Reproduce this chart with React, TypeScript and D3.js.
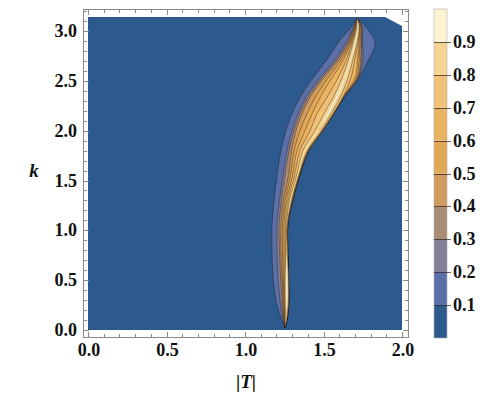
import React from 'react';
import * as d3 from 'd3';

// ---- data ----
const xTicks = [0, 0.5, 1.0, 1.5, 2.0];
const yTicks = [0, 0.5, 1.0, 1.5, 2.0, 2.5, 3.0];
const levels = [0.1, 0.2, 0.3, 0.4, 0.5, 0.6, 0.7, 0.8, 0.9];
const bandColors = ['#2d5a8e', '#5b6fa9', '#848098', '#ab8c75', '#d09b5e', '#e2a856', '#eab362', '#f0c176', '#f6d594', '#fef3d2'];

// region where the function is defined (|T|, k)
const domainT = [0, 0, 1.892, 2.0, 2.0];
const domainK = [0, Math.PI, Math.PI, 3.05, 0];

// ridge rows (k) and contour boundaries (|T|) for each level 0.1..0.9
const ridgeK = [3.13, 3.05, 2.88, 2.70, 2.53, 2.35, 2.17, 2.00, 1.80, 1.55, 1.30, 1.05, 0.80, 0.55, 0.30, 0.15, 0.02];
const contourLeft: (number | null)[][] = [
  [1.713, 1.682, 1.592, 1.516, 1.433, 1.357, 1.299, 1.261, 1.229, 1.204, 1.185, 1.172, 1.172, 1.178, 1.197, 1.223, 1.255],
  [1.713, 1.694, 1.643, 1.567, 1.478, 1.395, 1.338, 1.299, 1.268, 1.242, 1.220, 1.204, 1.204, 1.210, 1.223, 1.236, 1.255],
  [1.713, 1.697, 1.653, 1.580, 1.490, 1.408, 1.350, 1.312, 1.280, 1.255, 1.232, 1.217, 1.220, 1.226, 1.236, 1.242, 1.255],
  [1.713, 1.701, 1.662, 1.592, 1.503, 1.420, 1.363, 1.325, 1.296, 1.277, 1.245, 1.229, 1.229, 1.236, 1.242, 1.246, 1.255],
  [1.713, 1.704, 1.669, 1.608, 1.529, 1.452, 1.395, 1.350, 1.312, 1.290, 1.255, 1.239, 1.239, 1.242, 1.248, 1.250, 1.255],
  [1.713, 1.707, 1.675, 1.624, 1.554, 1.484, 1.427, 1.382, 1.331, 1.303, 1.264, 1.248, 1.248, 1.248, 1.250, 1.252, 1.255],
  [1.713, 1.710, 1.682, 1.643, 1.592, 1.529, 1.459, 1.414, 1.350, 1.315, 1.274, 1.257, 1.257, 1.253, 1.253, 1.255, 1.255],
  [1.713, 1.713, 1.688, 1.656, 1.618, 1.567, 1.503, 1.446, 1.369, 1.328, 1.283, 1.264, 1.261, 1.257, 1.257, 1.257, 1.255],
  [1.713, 1.717, 1.697, 1.666, 1.631, 1.583, 1.522, 1.471, null, null, null, null, 1.266, 1.260, 1.260, 1.263, null],
];
const contourRight: (number | null)[][] = [
  [1.713, 1.764, 1.828, 1.783, 1.726, 1.637, 1.567, 1.497, 1.408, 1.350, 1.306, 1.274, 1.274, 1.277, 1.280, 1.274, 1.255],
  [1.713, 1.745, 1.748, 1.752, 1.723, 1.636, 1.566, 1.496, 1.406, 1.349, 1.304, 1.273, 1.273, 1.276, 1.279, 1.273, 1.255],
  [1.713, 1.742, 1.742, 1.742, 1.720, 1.635, 1.565, 1.495, 1.405, 1.348, 1.303, 1.272, 1.272, 1.275, 1.279, 1.272, 1.255],
  [1.713, 1.739, 1.739, 1.736, 1.717, 1.634, 1.564, 1.494, 1.404, 1.347, 1.302, 1.271, 1.271, 1.275, 1.278, 1.271, 1.255],
  [1.713, 1.736, 1.732, 1.726, 1.710, 1.632, 1.563, 1.493, 1.403, 1.346, 1.301, 1.270, 1.271, 1.275, 1.278, 1.270, 1.255],
  [1.713, 1.732, 1.726, 1.717, 1.701, 1.631, 1.561, 1.491, 1.402, 1.345, 1.300, 1.269, 1.271, 1.276, 1.278, 1.269, 1.255],
  [1.713, 1.729, 1.720, 1.697, 1.675, 1.627, 1.561, 1.490, 1.401, 1.344, 1.299, 1.271, 1.271, 1.276, 1.278, 1.269, 1.255],
  [1.713, 1.726, 1.713, 1.685, 1.656, 1.611, 1.548, 1.484, 1.395, 1.341, 1.296, 1.269, 1.270, 1.274, 1.275, 1.269, 1.255],
  [1.713, 1.723, 1.707, 1.675, 1.640, 1.596, 1.535, 1.471, null, null, null, null, 1.266, 1.271, 1.271, 1.263, null],
];

const FONT = "'Liberation Serif', 'Times New Roman', Times, serif";
const FRAME = '#8a8a8a';

export default function App() {
  const x = d3.scaleLinear().domain([0, 2]).range([88, 402]);
  const y = d3.scaleLinear().domain([0, 3]).range([330, 31]);
  const cb = d3.scaleLinear().domain([0, 1]).range([338, 9]);

  const frame = { l: 83, r: 408, t: 9, b: 337 };

  const domainPath = d3.line<number>()
    .x((_, i) => x(domainT[i]))
    .y((_, i) => y(domainK[i]))(domainT) + 'Z';

  const bandPath = (li: number) => {
    const L = contourLeft[li];
    const R = contourRight[li];
    return d3.area<number>()
      .defined((_, i) => L[i] != null && R[i] != null)
      .y((_, i) => y(ridgeK[i]))
      .x0((_, i) => x(L[i] as number))
      .x1((_, i) => x(R[i] as number))
      .curve(d3.curveCatmullRom.alpha(0.5))(ridgeK) || '';
  };

  const xMinor = d3.range(0, 2.0001, 0.1);
  const yMinor = d3.range(0, 3.2001, 0.1);
  const isMajor = (v: number) => Math.abs(v * 2 - Math.round(v * 2)) < 1e-6;

  const cbX0 = 434, cbX1 = 447;
  const txt = { fontFamily: FONT, fontWeight: 'bold' as const };

  return (
    <svg width={483} height={396} style={{ position: 'absolute', left: 0, top: 0, background: '#fff' }}>
      {/* function domain */}
      <path d={domainPath} fill={bandColors[0]} />
      {/* contour bands */}
      {levels.map((lv, li) => (
        <path key={lv} d={bandPath(li)} fill={bandColors[li + 1]}
          stroke={li === 8 ? 'rgba(120,90,40,0.35)' : 'rgba(25,15,5,0.55)'} strokeWidth={li === 8 ? 0.4 : 0.7} />
      ))}

      {/* frame */}
      <rect x={frame.l + 0.5} y={frame.t + 0.5} width={frame.r - frame.l} height={frame.b - frame.t} fill="none" stroke={FRAME} strokeWidth={1} />
      {xMinor.map((v, i) => {
        const len = isMajor(v) ? 5 : 3;
        const px = Math.round(x(v)) + 0.5;
        return (
          <g key={'xt' + i}>
            <line x1={px} x2={px} y1={frame.b} y2={frame.b - len} stroke={FRAME} />
            <line x1={px} x2={px} y1={frame.t + 1} y2={frame.t + 1 + len} stroke={FRAME} />
          </g>
        );
      })}
      {yMinor.filter(v => y(v) > frame.t + 1).map((v, i) => {
        const len = isMajor(v) ? 5 : 3;
        const py = Math.round(y(v)) + 0.5;
        return (
          <g key={'yt' + i}>
            <line x1={frame.l + 1} x2={frame.l + 1 + len} y1={py} y2={py} stroke={FRAME} />
            <line x1={frame.r} x2={frame.r - len} y1={py} y2={py} stroke={FRAME} />
          </g>
        );
      })}
      {xTicks.map(v => (
        <text key={'xl' + v} x={x(v) + 1} y={356} textAnchor="middle" style={txt} fontSize={18} fill="#111">
          {v.toFixed(1)}
        </text>
      ))}
      {yTicks.map(v => (
        <text key={'yl' + v} x={77} y={y(v) + 6} textAnchor="end" style={txt} fontSize={18} fill="#111">
          {v.toFixed(1)}
        </text>
      ))}
      <text x={34} y={177} textAnchor="middle" style={{ ...txt, fontStyle: 'italic' }} fontSize={19} fill="#111">k</text>
      <text x={246} y={388} textAnchor="middle" style={txt} fontSize={19} fill="#111">
        |<tspan style={{ fontStyle: 'italic' }}>T</tspan>|
      </text>

      {/* colour bar */}
      {bandColors.map((c, i) => (
        <rect key={'cb' + i} x={cbX0} y={cb((i + 1) / 10)} width={cbX1 - cbX0} height={cb(i / 10) - cb((i + 1) / 10)} fill={c} />
      ))}
      <rect x={cbX0} y={cb(1)} width={cbX1 - cbX0} height={cb(0) - cb(1)} fill="none" stroke="#b0b0b0" strokeWidth={0.6} />
      {levels.map(lv => (
        <g key={'cbt' + lv}>
          <line x1={cbX0} x2={cbX1 + 4} y1={Math.round(cb(lv)) + 0.5} y2={Math.round(cb(lv)) + 0.5} stroke="rgba(40,30,20,0.7)" strokeWidth={1} />
          <text x={453} y={cb(lv) + 6} style={txt} fontSize={18} fill="#111">{lv.toFixed(1)}</text>
        </g>
      ))}
    </svg>
  );
}
